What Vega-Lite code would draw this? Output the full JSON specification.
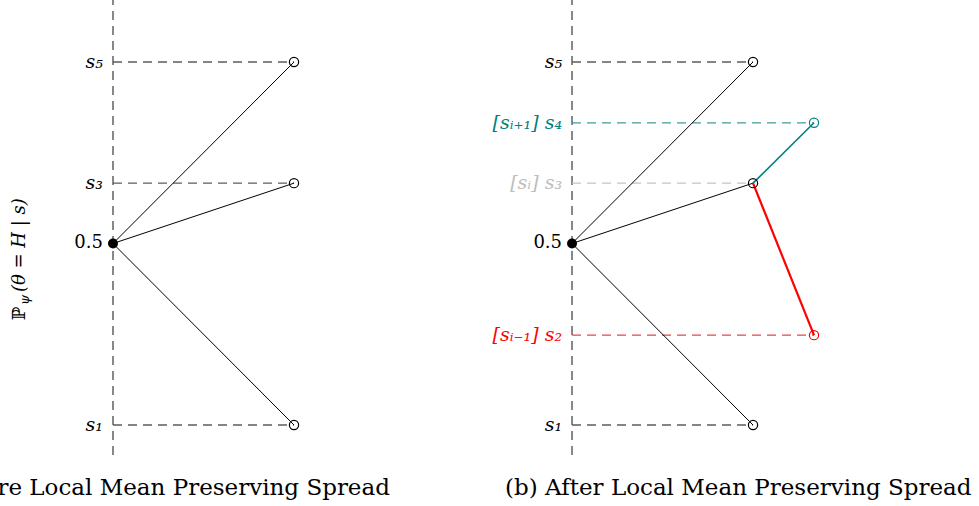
{
  "$schema": "https://vega.github.io/schema/vega-lite/v6.json",
  "width": 979,
  "height": 506,
  "autosize": {"type": "none"},
  "padding": 0,
  "background": "white",
  "config": {"view": {"stroke": null}, "axis": {"disable": true}, "legend": {"disable": true}},
  "datasets": {
    "axes": [{"x": 0}, {"x": 2.536}],
    "guides": [
      {"x": 0, "x2": 1, "level": 0.9, "tone": "guide"},
      {"x": 0, "x2": 1, "level": 0.633, "tone": "guide"},
      {"x": 0, "x2": 1, "level": 0.1, "tone": "guide"},
      {"x": 2.536, "x2": 3.536, "level": 0.9, "tone": "guide"},
      {"x": 2.536, "x2": 3.873, "level": 0.766, "tone": "up"},
      {"x": 2.536, "x2": 3.536, "level": 0.633, "tone": "faded"},
      {"x": 2.536, "x2": 3.873, "level": 0.298, "tone": "down"},
      {"x": 2.536, "x2": 3.536, "level": 0.1, "tone": "guide"}
    ],
    "edges": [
      {"x": 0, "y": 0.5, "x2": 1, "y2": 0.9, "tone": "base"},
      {"x": 0, "y": 0.5, "x2": 1, "y2": 0.633, "tone": "base"},
      {"x": 0, "y": 0.5, "x2": 1, "y2": 0.1, "tone": "base"},
      {"x": 2.536, "y": 0.5, "x2": 3.536, "y2": 0.9, "tone": "base"},
      {"x": 2.536, "y": 0.5, "x2": 3.536, "y2": 0.633, "tone": "base"},
      {"x": 2.536, "y": 0.5, "x2": 3.536, "y2": 0.1, "tone": "base"},
      {"x": 3.536, "y": 0.633, "x2": 3.873, "y2": 0.766, "tone": "up"},
      {"x": 3.536, "y": 0.633, "x2": 3.873, "y2": 0.298, "tone": "down"}
    ],
    "nodes": [
      {"x": 1, "y": 0.9, "tone": "base"},
      {"x": 1, "y": 0.633, "tone": "base"},
      {"x": 1, "y": 0.1, "tone": "base"},
      {"x": 3.536, "y": 0.9, "tone": "base"},
      {"x": 3.536, "y": 0.633, "tone": "base"},
      {"x": 3.536, "y": 0.1, "tone": "base"},
      {"x": 3.873, "y": 0.766, "tone": "up"},
      {"x": 3.873, "y": 0.298, "tone": "down"}
    ],
    "roots": [{"x": 0, "y": 0.5, "label": "0.5"}, {"x": 2.536, "y": 0.5, "label": "0.5"}],
    "labels": [
      {"x": 0, "y": 0.9, "label": "s₅", "tone": "base"},
      {"x": 0, "y": 0.633, "label": "s₃", "tone": "base"},
      {"x": 0, "y": 0.1, "label": "s₁", "tone": "base"},
      {"x": 2.536, "y": 0.9, "label": "s₅", "tone": "base"},
      {"x": 2.536, "y": 0.766, "label": "[sᵢ₊₁] s₄", "tone": "up"},
      {"x": 2.536, "y": 0.633, "label": "[sᵢ] s₃", "tone": "faded"},
      {"x": 2.536, "y": 0.298, "label": "[sᵢ₋₁] s₂", "tone": "down"},
      {"x": 2.536, "y": 0.1, "label": "s₁", "tone": "base"}
    ]
  },
  "layer": [
    {
      "data": {"name": "axes"},
      "mark": {"type": "rule", "color": "#484848", "strokeWidth": 1.3, "strokeDash": [9, 6]},
      "encoding": {
        "x": {"field": "x", "type": "quantitative", "axis": null, "scale": {"domain": [-0.6243, 4.7845], "nice": false, "zero": false}},
        "y": {"datum": 0.034, "type": "quantitative", "axis": null, "scale": {"domain": [-0.0785, 1.0366], "nice": false, "zero": false}},
        "y2": {"datum": 1.037}
      }
    },
    {
      "data": {"name": "guides"},
      "mark": {"type": "rule", "strokeWidth": 1.3, "strokeDash": [9, 6]},
      "encoding": {
        "x": {"field": "x", "type": "quantitative", "axis": null, "scale": {"domain": [-0.6243, 4.7845], "nice": false, "zero": false}},
        "x2": {"field": "x2"},
        "y": {"field": "level", "type": "quantitative", "axis": null, "scale": {"domain": [-0.0785, 1.0366], "nice": false, "zero": false}},
        "stroke": {"field": "tone", "type": "nominal", "legend": null, "scale": {"domain": ["guide", "faded", "up", "down"], "range": ["#5c5c5c", "#c4c4c4", "#3f9c9c", "#e04848"]}}
      }
    },
    {
      "data": {"name": "edges"},
      "mark": {"type": "rule"},
      "encoding": {
        "x": {"field": "x", "type": "quantitative", "axis": null, "scale": {"domain": [-0.6243, 4.7845], "nice": false, "zero": false}},
        "x2": {"field": "x2"},
        "y": {"field": "y", "type": "quantitative", "axis": null, "scale": {"domain": [-0.0785, 1.0366], "nice": false, "zero": false}},
        "y2": {"field": "y2"},
        "color": {"field": "tone", "type": "nominal", "legend": null, "scale": {"domain": ["base", "up", "down"], "range": ["#000000", "#008080", "#ff0000"]}},
        "strokeWidth": {"field": "tone", "type": "nominal", "legend": null, "scale": {"domain": ["base", "up", "down"], "range": [1, 2.2, 2.2]}}
      }
    },
    {
      "data": {"name": "nodes"},
      "mark": {"type": "point", "shape": "circle", "filled": false, "size": 85, "strokeWidth": 1.2, "opacity": 1},
      "encoding": {
        "x": {"field": "x", "type": "quantitative", "axis": null, "scale": {"domain": [-0.6243, 4.7845], "nice": false, "zero": false}},
        "y": {"field": "y", "type": "quantitative", "axis": null, "scale": {"domain": [-0.0785, 1.0366], "nice": false, "zero": false}},
        "color": {"field": "tone", "type": "nominal", "legend": null, "scale": {"domain": ["base", "up", "down"], "range": ["#000000", "#008080", "#ff0000"]}}
      }
    },
    {
      "data": {"name": "roots"},
      "mark": {"type": "point", "shape": "circle", "filled": true, "size": 100, "color": "#000000", "opacity": 1},
      "encoding": {
        "x": {"field": "x", "type": "quantitative", "axis": null, "scale": {"domain": [-0.6243, 4.7845], "nice": false, "zero": false}},
        "y": {"field": "y", "type": "quantitative", "axis": null, "scale": {"domain": [-0.0785, 1.0366], "nice": false, "zero": false}}
      }
    },
    {
      "data": {"name": "roots"},
      "mark": {"type": "text", "align": "right", "baseline": "middle", "dx": -10, "font": "DejaVu Serif", "fontSize": 18, "color": "#000000"},
      "encoding": {
        "x": {"field": "x", "type": "quantitative", "axis": null, "scale": {"domain": [-0.6243, 4.7845], "nice": false, "zero": false}},
        "y": {"field": "y", "type": "quantitative", "axis": null, "scale": {"domain": [-0.0785, 1.0366], "nice": false, "zero": false}},
        "text": {"field": "label"}
      }
    },
    {
      "data": {"name": "labels"},
      "mark": {"type": "text", "align": "right", "baseline": "middle", "dx": -10, "font": "DejaVu Serif", "fontSize": 19, "fontStyle": "italic"},
      "encoding": {
        "x": {"field": "x", "type": "quantitative", "axis": null, "scale": {"domain": [-0.6243, 4.7845], "nice": false, "zero": false}},
        "y": {"field": "y", "type": "quantitative", "axis": null, "scale": {"domain": [-0.0785, 1.0366], "nice": false, "zero": false}},
        "text": {"field": "label"},
        "fill": {"field": "tone", "type": "nominal", "legend": null, "scale": {"domain": ["base", "faded", "up", "down"], "range": ["#000000", "#bdbdbd", "#008080", "#ff0000"]}}
      }
    },
    {
      "data": {"values": [{"t": "ℙ"}]},
      "mark": {"type": "text", "angle": 270, "align": "left", "baseline": "alphabetic", "font": "DejaVu Serif", "fontSize": 18, "color": "#000000"},
      "encoding": {
        "x": {"datum": -0.486, "type": "quantitative", "axis": null, "scale": {"domain": [-0.6243, 4.7845], "nice": false, "zero": false}},
        "y": {"datum": 0.331, "type": "quantitative", "axis": null, "scale": {"domain": [-0.0785, 1.0366], "nice": false, "zero": false}},
        "text": {"field": "t"}
      }
    },
    {
      "data": {"values": [{"t": "ψ"}]},
      "mark": {"type": "text", "angle": 270, "align": "left", "baseline": "alphabetic", "font": "DejaVu Serif", "fontSize": 13, "fontStyle": "italic", "color": "#000000"},
      "encoding": {
        "x": {"datum": -0.464, "type": "quantitative", "axis": null, "scale": {"domain": [-0.6243, 4.7845], "nice": false, "zero": false}},
        "y": {"datum": 0.3645, "type": "quantitative", "axis": null, "scale": {"domain": [-0.0785, 1.0366], "nice": false, "zero": false}},
        "text": {"field": "t"}
      }
    },
    {
      "data": {"values": [{"t": "(θ = H | s)"}]},
      "mark": {"type": "text", "angle": 270, "align": "left", "baseline": "alphabetic", "font": "DejaVu Serif", "fontSize": 18, "fontStyle": "italic", "color": "#000000"},
      "encoding": {
        "x": {"datum": -0.486, "type": "quantitative", "axis": null, "scale": {"domain": [-0.6243, 4.7845], "nice": false, "zero": false}},
        "y": {"datum": 0.393, "type": "quantitative", "axis": null, "scale": {"domain": [-0.0785, 1.0366], "nice": false, "zero": false}},
        "text": {"field": "t"}
      }
    },
    {
      "data": {"values": [{"t": "(a) Before Local Mean Preserving Spread"}]},
      "mark": {"type": "text", "align": "right", "baseline": "alphabetic", "font": "DejaVu Serif", "fontSize": 23, "color": "#000000"},
      "encoding": {
        "x": {"datum": 1.53, "type": "quantitative", "axis": null, "scale": {"domain": [-0.6243, 4.7845], "nice": false, "zero": false}},
        "y": {"datum": -0.0543, "type": "quantitative", "axis": null, "scale": {"domain": [-0.0785, 1.0366], "nice": false, "zero": false}},
        "text": {"field": "t"}
      }
    },
    {
      "data": {"values": [{"t": "(b) After Local Mean Preserving Spread"}]},
      "mark": {"type": "text", "align": "left", "baseline": "alphabetic", "font": "DejaVu Serif", "fontSize": 23, "color": "#000000"},
      "encoding": {
        "x": {"datum": 2.166, "type": "quantitative", "axis": null, "scale": {"domain": [-0.6243, 4.7845], "nice": false, "zero": false}},
        "y": {"datum": -0.0543, "type": "quantitative", "axis": null, "scale": {"domain": [-0.0785, 1.0366], "nice": false, "zero": false}},
        "text": {"field": "t"}
      }
    }
  ],
  "resolve": {"scale": {"color": "independent", "stroke": "independent", "fill": "independent", "strokeWidth": "independent"}}
}
